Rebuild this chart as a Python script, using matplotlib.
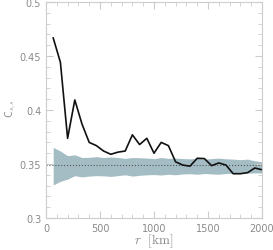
import numpy as np
import matplotlib.pyplot as plt
from matplotlib.ticker import MultipleLocator

plt.rcParams['mathtext.fontset'] = 'cm'

# separation bins (km) and measured C_ss
r = [66.7, 133.3, 200, 266.7, 333.3, 400, 466.7, 533.3, 600, 666.7,
     733.3, 800, 866.7, 933.3, 1000, 1066.7, 1133.3, 1200, 1266.7, 1333.3,
     1400, 1466.7, 1533.3, 1600, 1666.7, 1733.3, 1800, 1866.7, 1933.3, 2000]
css = [0.4667, 0.4442, 0.3738, 0.4093, 0.387, 0.370, 0.367, 0.362, 0.359, 0.361,
       0.362, 0.377, 0.368, 0.3738, 0.360, 0.370, 0.367, 0.352, 0.349, 0.348,
       0.3553, 0.355, 0.3485, 0.351, 0.349, 0.341, 0.341, 0.342, 0.3463, 0.3447]
# random-catalogue band
band_hi = [0.3654, 0.3620, 0.3577, 0.3585, 0.3560, 0.3562, 0.3568, 0.3560, 0.3565, 0.3560,
           0.3552, 0.3560, 0.3558, 0.3555, 0.3550, 0.3560, 0.3552, 0.3555, 0.3550, 0.3548,
           0.3552, 0.3545, 0.3550, 0.3555, 0.3548, 0.3545, 0.3540, 0.3545, 0.3530, 0.3520]
band_lo = [0.3306, 0.3340, 0.3360, 0.3392, 0.3380, 0.3388, 0.3392, 0.3390, 0.3385, 0.3392,
           0.3400, 0.3388, 0.3395, 0.3400, 0.3402, 0.3398, 0.3405, 0.3400, 0.3408, 0.3410,
           0.3405, 0.3412, 0.3408, 0.3405, 0.3412, 0.3415, 0.3418, 0.3415, 0.3417, 0.3417]
mean_level = 0.349

gray = '#8a8a8a'
fig = plt.figure(figsize=(2.73, 2.51), dpi=100)
ax = fig.add_axes([0.1685, 0.1275, 0.7912, 0.8605])

ax.fill_between(r, band_lo, band_hi, color='#a4bdc4', lw=0)
ax.axhline(mean_level, color='#555555', ls=':', lw=0.8)
ax.plot(r, css, color='#111111', lw=1.2)

ax.set_xlim(0, 2000)
ax.set_ylim(0.3, 0.5)
ax.xaxis.set_major_locator(MultipleLocator(500))
ax.xaxis.set_minor_locator(MultipleLocator(100))
ax.yaxis.set_major_locator(MultipleLocator(0.05))
ax.yaxis.set_minor_locator(MultipleLocator(0.01))
ax.set_yticks([0.3, 0.35, 0.4, 0.45, 0.5])
ax.set_yticklabels(['0.3', '0.35', '0.4', '0.45', '0.5'])
ax.tick_params(which='both', direction='in', top=True, right=True,
               color='#cccccc', labelcolor=gray, labelsize=7)
ax.tick_params(which='major', length=5)
ax.tick_params(which='minor', length=3)
for s in ax.spines.values():
    s.set_color('#cccccc')

ax.set_xlabel(r'$r\ \ [\mathrm{km}]$', color=gray, fontsize=9.5)
ax.xaxis.set_label_coords(0.5, -0.062)
ax.set_ylabel(r'$\mathsf{C}_{s,s}$', color=gray, fontsize=7.5)
ax.yaxis.set_label_coords(-0.13, 0.51)

fig.savefig('out.png', dpi=100)
